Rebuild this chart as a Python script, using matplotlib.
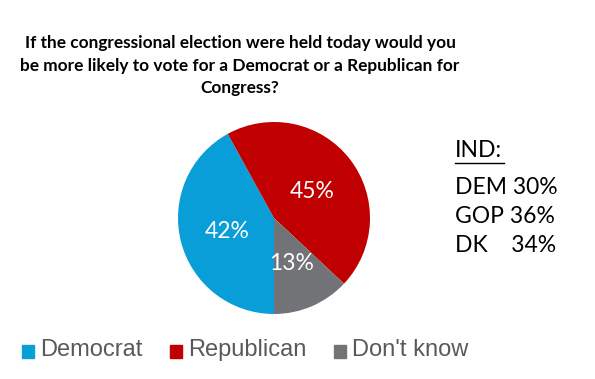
import matplotlib
matplotlib.use("Agg")
import matplotlib.pyplot as plt
from matplotlib.patches import Rectangle

W, H = 595, 379
categories = ["Democrat", "Republican", "Don't know"]
values = [42, 45, 13]
colors = ["#0A9ED9", "#C00000", "#727377"]
title_lines = ["If the congressional election were held today would you",
               "be more likely to vote for a Democrat or a Republican for",
               "Congress?"]
ind_header = "IND:"
ind_rows = ["DEM 30%", "GOP 36%", "DK    34%"]

fig = plt.figure(figsize=(W/100, H/100), dpi=100)
fig.patch.set_facecolor("white")

def fx(x): return x / W
def fy(y): return 1 - y / H

# pie
cx, cy, r = 274, 218, 96
ax = fig.add_axes([fx(cx - r), fy(cy + r), 2*r/W, 2*r/H])
wedges, texts = ax.pie(values, colors=colors, startangle=270, counterclock=False,
                       wedgeprops=dict(linewidth=0))
ax.set_aspect("equal")
ax.set_xlim(-1, 1); ax.set_ylim(-1, 1)
ax.axis("off")

# percentage labels
lab_pos = [(227, 232), (312, 192), (292, 263)]
for (px, py), v in zip(lab_pos, values):
    fig.text(fx(px), fy(py), f"{v}%", color="white", fontsize=16.5, family="Lato",
             ha="center", va="center")

# title
for i, line in enumerate(title_lines):
    fig.text(fx(240), fy(43 + 22.5*i), line, ha="center", va="center",
             fontsize=12.4, fontweight="bold", family="Lato", color="black")

# IND block
fig.text(fx(455), fy(151), ind_header, ha="left", va="center", fontsize=16.5,
         family="Lato", color="black")
fig.add_artist(plt.Line2D([fx(455), fx(504)], [fy(163), fy(163)], color="black", lw=1))
for i, row in enumerate(ind_rows):
    fig.text(fx(455), fy(187 + 29*i), row, ha="left", va="center", fontsize=16.5,
             family="Lato", color="black")

# legend
leg_x = [22, 170, 334]
for x0, c, name in zip(leg_x, colors, categories):
    fig.add_artist(Rectangle((fx(x0), fy(358)), 12/W, 13/H, color=c, transform=fig.transFigure))
    fig.text(fx(x0 + 18), fy(350), name, ha="left", va="center", fontsize=17,
             family="Liberation Sans", color="#595959")

fig.savefig("out.png", dpi=100)
